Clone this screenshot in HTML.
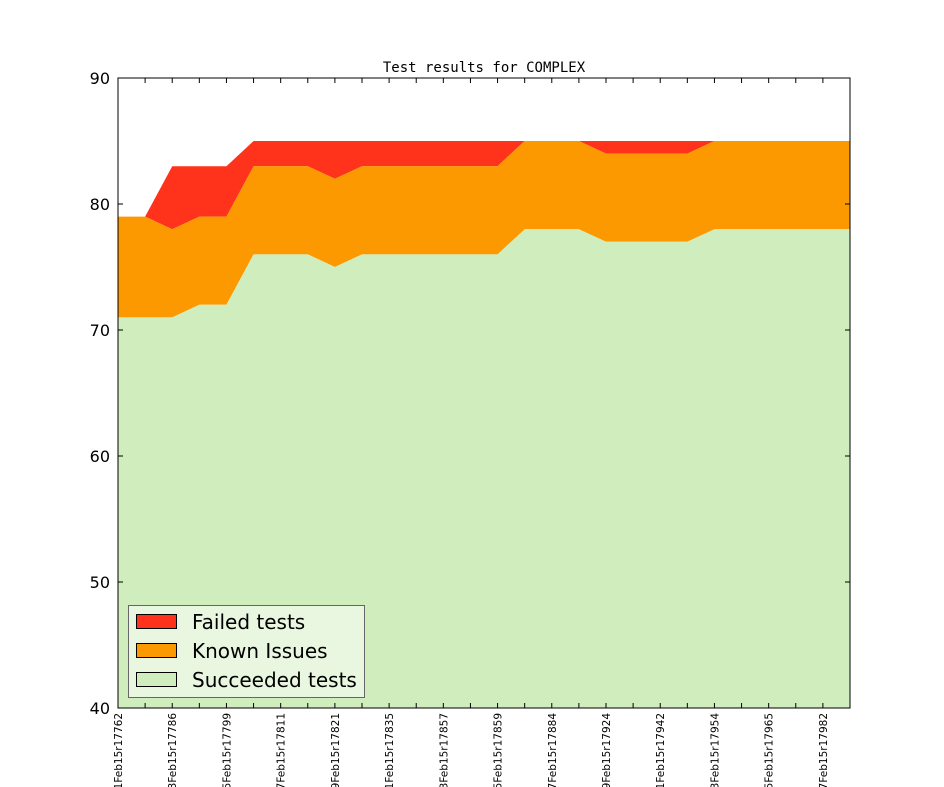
<!DOCTYPE html>
<html><head><meta charset="utf-8"><style>body{margin:0;background:#fff}svg{display:block}</style></head>
<body>
<svg id="chart" width="944" height="787" xmlns="http://www.w3.org/2000/svg" font-family="DejaVu Sans, Liberation Sans, sans-serif">
<text x="484" y="72" text-anchor="middle" font-family="DejaVu Sans Mono, Liberation Mono, monospace" font-size="14">Test results for COMPLEX</text>
<g id="areas"></g>
<g id="axes"></g>
<g>
<rect x="128.5" y="605.5" width="236" height="92" fill="#e9f6e0" stroke="#666" stroke-width="1"/>
<rect x="136.5" y="614.5" width="40" height="14" fill="#ff331c" stroke="#000"/>
<text x="192" y="629" font-size="20">Failed tests</text>
<rect x="136.5" y="643.5" width="40" height="14" fill="#fd9900" stroke="#000"/>
<text x="192" y="658" font-size="20">Known Issues</text>
<rect x="136.5" y="672.5" width="40" height="14" fill="#cfedbd" stroke="#000"/>
<text x="192" y="687" font-size="20">Succeeded tests</text>
</g>
</svg>
<script>
const succeeded = [71,71,71,72,72,76,76,76,75,76,76,76,76,76,76,78,78,78,77,77,77,77,78,78,78,78,78,78];
const known = [8,8,7,7,7,7,7,7,7,7,7,7,7,7,7,7,7,7,7,7,7,7,7,7,7,7,7,7];
const failed = [0,0,5,4,4,2,2,2,3,2,2,2,2,2,2,0,0,0,1,1,1,1,0,0,0,0,0,0];
const xLabels = ["01Feb15r17762","","03Feb15r17786","","05Feb15r17799","","07Feb15r17811","","09Feb15r17821","","11Feb15r17835","","13Feb15r17857","","15Feb15r17859","","17Feb15r17884","","19Feb15r17924","","21Feb15r17942","","23Feb15r17954","","25Feb15r17965","","27Feb15r17982",""];
const yTicks = [40,50,60,70,80,90];
const L=118,R=850,T=78,B=708,yMin=40,yMax=90;
const NS="http://www.w3.org/2000/svg";
const n=succeeded.length;
function xs(i){return L+(R-L)*i/(n-1);}
function ys(v){return B-(v-yMin)/(yMax-yMin)*(B-T);}
function mk(tag,attrs,parent){const e=document.createElementNS(NS,tag);for(const k in attrs)e.setAttribute(k,attrs[k]);parent.appendChild(e);return e;}
const areas=document.getElementById('areas');
const axes=document.getElementById('axes');
const base=succeeded.map(()=>yMin);
const s1=succeeded.slice();
const s2=succeeded.map((v,i)=>v+known[i]);
const s3=s2.map((v,i)=>v+failed[i]);
function area(lo,hi,color,name){
  let d='M'+xs(0)+','+ys(hi[0]);
  for(let i=1;i<n;i++)d+='L'+xs(i)+','+ys(hi[i]);
  for(let i=n-1;i>=0;i--)d+='L'+xs(i)+','+ys(lo[i]);
  const p=mk('path',{d:d+'Z',fill:color},areas);
  
  
}
area(s2,s3,'#ff331c','failed-area');
area(s1,s2,'#fd9900','known-issues-area');
area(base,s1,'#cfedbd','succeeded-area');
const fr=mk('rect',{x:L,y:T,width:R-L,height:B-T,fill:'none',stroke:'#000','stroke-width':1},axes);


yTicks.forEach(v=>{
  const y=ys(v);
  mk('line',{x1:L,x2:L+5,y1:y,y2:y,stroke:'#000'},axes);
  mk('line',{x1:R,x2:R-5,y1:y,y2:y,stroke:'#000'},axes);
  const t=mk('text',{x:L-8,y:y+6,'text-anchor':'end','font-size':16},axes);
  t.textContent=v;
  
  
});
for(let i=0;i<n;i++){
  const x=xs(i);
  mk('line',{x1:x,x2:x,y1:B,y2:B-5,stroke:'#000'},axes);
  mk('line',{x1:x,x2:x,y1:T,y2:T+5,stroke:'#000'},axes);
  if(xLabels[i]){
    const t=mk('text',{x:0,y:0,'text-anchor':'end','font-size':10.5,transform:'translate('+(x+4)+','+(B+5)+') rotate(-90)'},axes);
    t.textContent=xLabels[i];
    
    
  }
}
</script>
</body></html>
